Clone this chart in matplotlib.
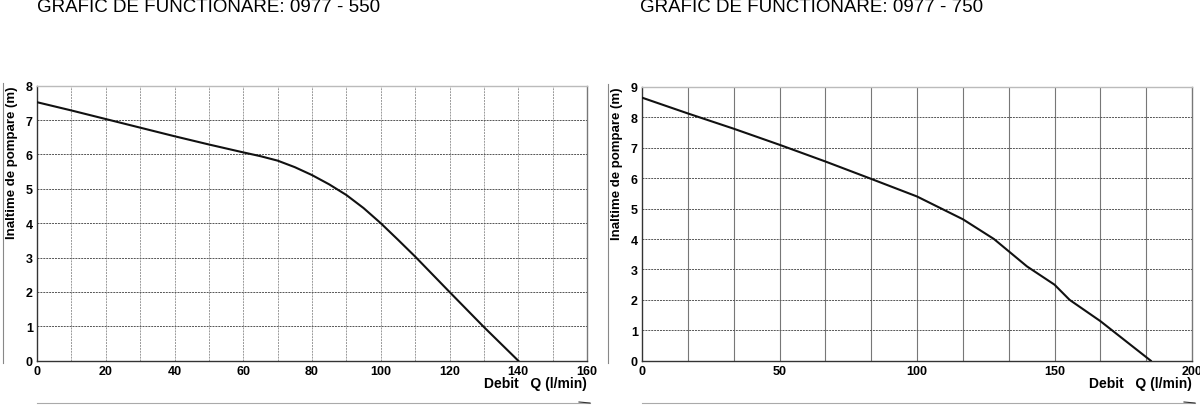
import numpy as np
import matplotlib.pyplot as plt

# pump curves
q_550 = [0, 10, 20, 30, 40, 50, 60, 65, 70, 75, 80, 85, 90, 95, 100, 105, 110, 120, 130, 140]
h_550 = [7.52, 7.28, 7.03, 6.78, 6.53, 6.29, 6.06, 5.95, 5.82, 5.63, 5.4, 5.13, 4.82, 4.44, 4.0, 3.52, 3.03, 2.0, 0.98, 0.0]

q_750 = [0, 16.7, 33.3, 50, 66.7, 83.3, 100, 116.7, 128, 140, 150, 155.5, 166.7, 185]
h_750 = [8.65, 8.13, 7.63, 7.1, 6.55, 5.98, 5.4, 4.65, 4.0, 3.1, 2.5, 2.0, 1.3, 0.0]

titles = ["GRAFIC DE FUNCTIONARE: 0977 - 550", "GRAFIC DE FUNCTIONARE: 0977 - 750"]
ylabel = "Inaltime de pompare (m)"
xlabel = "Debit   Q (l/min)"

plt.rcParams['font.family'] = ['Liberation Sans', 'DejaVu Sans']

W, H = 1200, 406
fig = plt.figure(figsize=(12, 4.06), dpi=100)


def box(x0, x1, ytop, ybot):
    return [x0 / W, 1 - ybot / H, (x1 - x0) / W, (ybot - ytop) / H]


def setup(ax, xmax, ymax, xticks, vgrid, vstyle, title, tx):
    ax.set_xlim(0, xmax)
    ax.set_ylim(0, ymax)
    ax.set_xticks(xticks)
    ax.set_yticks(range(0, ymax + 1))
    ax.tick_params(length=0, labelsize=9, pad=3)
    for lab in ax.get_xticklabels() + ax.get_yticklabels():
        lab.set_fontweight('bold')
    for v in vgrid:
        ax.axvline(v, **vstyle, zorder=1)
    for y in range(1, ymax):
        ax.axhline(y, color='#555555', lw=0.7, ls=(0, (2, 1)), zorder=1)
    ax.spines['left'].set_color('#333333')
    ax.spines['bottom'].set_color('#333333')
    ax.spines['top'].set_color('#bbbbbb')
    ax.spines['right'].set_color('#777777')
    for s in ax.spines.values():
        s.set_linewidth(1.0)
    # y label at the top left, bold
    bb = ax.get_position()
    fig.text(bb.x0 - 25 / W, bb.y1, ylabel, rotation=90, ha='center', va='top',
             fontsize=9.5, fontweight='bold')
    fig.text(bb.x1, 1 - 384 / H, xlabel, ha='right', va='center',
             fontsize=10, fontweight='bold')
    fig.text(tx / W, 1 - 8 / H, title, ha='left', va='center', fontsize=13.5)
    # arrow lines outside axes
    fig.add_artist(plt.Line2D([bb.x0 - 34 / W] * 2, [bb.y0 - 2 / H, bb.y1 + 3 / H],
                              color='#888888', lw=0.8))
    fig.add_artist(plt.Line2D([bb.x0, bb.x1 + 3 / W], [1 - 404 / H] * 2,
                              color='#aaaaaa', lw=0.8))
    fig.add_artist(plt.Line2D([bb.x1 - 8 / W, bb.x1 + 3 / W], [1 - 403 / H, 1 - 404 / H],
                              color='#333333', lw=0.8))


ax1 = fig.add_axes(box(37, 587, 86.7, 361.7))
setup(ax1, 160, 8, range(0, 161, 20), range(10, 160, 10),
      dict(color='#999999', lw=0.7, ls=(0, (2, 1))), titles[0], 37)
ax1.plot(q_550, h_550, color='#111111', lw=1.5, zorder=3)

ax2 = fig.add_axes(box(642, 1192, 88, 361.7))
setup(ax2, 200, 9, [0, 50, 100, 150, 200], np.arange(1, 12) * 200 / 12,
      dict(color='#777777', lw=0.8, ls='-'), titles[1], 640)
ax2.plot(q_750, h_750, color='#111111', lw=1.5, zorder=3)

fig.savefig('out.png', dpi=100)
